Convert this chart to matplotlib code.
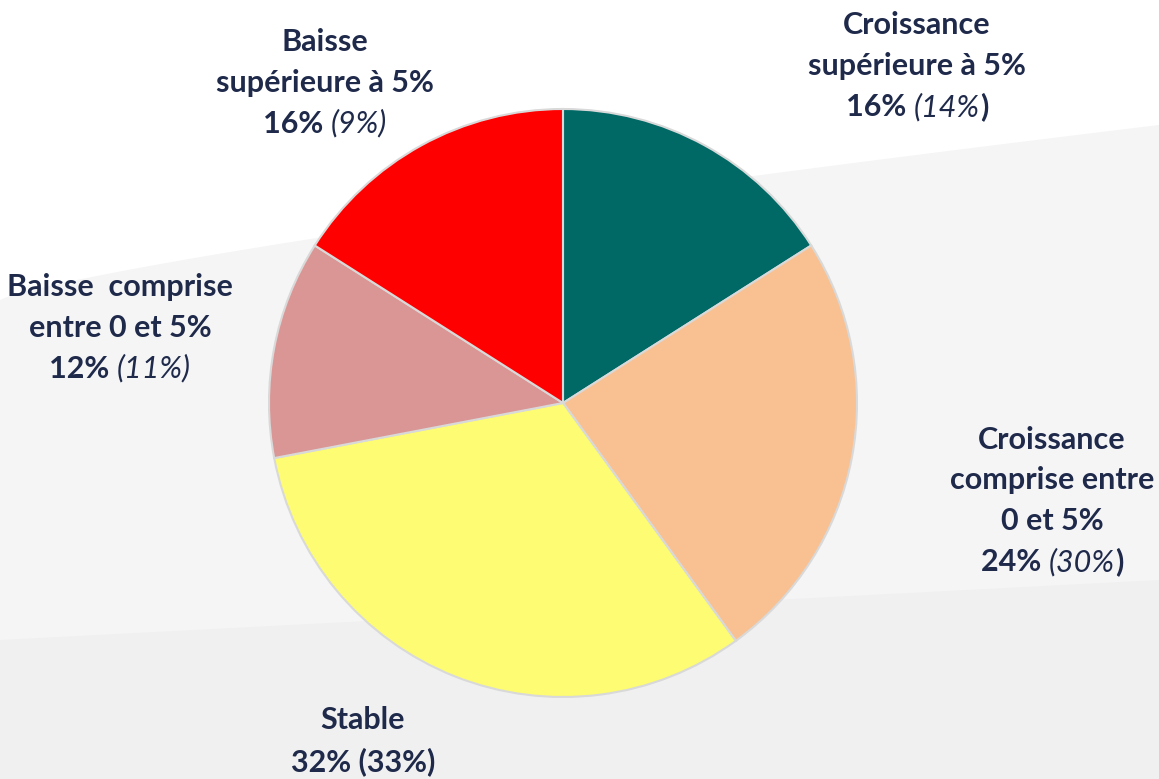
import numpy as np
import matplotlib.pyplot as plt
from matplotlib.offsetbox import TextArea, HPacker, VPacker, AnnotationBbox

# data
categories = ["Croissance supérieure à 5%", "Croissance comprise entre 0 et 5%",
              "Stable", "Baisse comprise entre 0 et 5%", "Baisse supérieure à 5%"]
values = [16, 24, 32, 12, 16]
previous = [14, 30, 33, 11, 9]
colors = ["#006865", "#F9C192", "#FDFC72", "#D99694", "#FF0000"]

W, H = 1159, 779
fig = plt.figure(figsize=(W / 100, H / 100), dpi=100)
fig.patch.set_facecolor("white")

# background swooshes
bg = fig.add_axes([0, 0, 1, 1], zorder=0)
bg.set_xlim(0, W)
bg.set_ylim(H, 0)
bg.axis("off")
xs = np.linspace(0, W, 200)
top1 = 300 - 175 * (xs / W) ** 0.8
bg.fill_between(xs, top1, H, color="#F5F5F6", lw=0)
top2 = 640 - 60 * (xs / W)
bg.fill_between(xs, top2, H, color="#EDEDED", lw=0, alpha=0.6)

ax = fig.add_axes([0, 0, 1, 1], zorder=1)
ax.pie(values, colors=colors, startangle=90, counterclock=False,
       center=(563, H - 403), radius=294,
       wedgeprops=dict(edgecolor="#D9D9D9", linewidth=1.5))
ax.set_xlim(0, W)
ax.set_ylim(0, H)
ax.set_aspect("equal")
ax.axis("off")

navy = "#1F2A4B"
fam = "Lato"
fs = 22


def txt(s, weight="bold", style="normal"):
    return TextArea(s, textprops=dict(color=navy, fontsize=fs, family=fam,
                                      fontweight=weight, fontstyle=style))


def label(lines, last, x, y):
    rows = [HPacker(children=[txt(l)], pad=0, sep=0) for l in lines]
    rows.append(HPacker(children=last, pad=0, sep=0))
    box = VPacker(children=rows, align="center", pad=0, sep=9)
    ab = AnnotationBbox(box, (x, H - y), xycoords="data", frameon=False,
                        box_alignment=(0.5, 0.5))
    ax.add_artist(ab)


def pct_line(v, p, close_bold=True):
    parts = [txt(f"{v}% "), txt(f"({p}%", weight="normal", style="italic")]
    if close_bold:
        parts.append(txt(")"))
    else:
        parts[-1] = txt(f"({p}%)", weight="normal", style="italic")
    return parts


label(["Croissance", "supérieure à 5%"], pct_line(values[0], previous[0]), 917, 66)
label(["Croissance", "comprise entre", "0 et 5%"], pct_line(values[1], previous[1]), 1052, 501)
label(["Stable"], [txt(f"{values[2]}% ({previous[2]}%)")], 363, 741)
label(["Baisse  comprise", "entre 0 et 5%"], pct_line(values[3], previous[3], False), 120, 328)
label(["Baisse", "supérieure à 5%"], pct_line(values[4], previous[4], False), 325, 83)

fig.savefig("out.png", dpi=100)
